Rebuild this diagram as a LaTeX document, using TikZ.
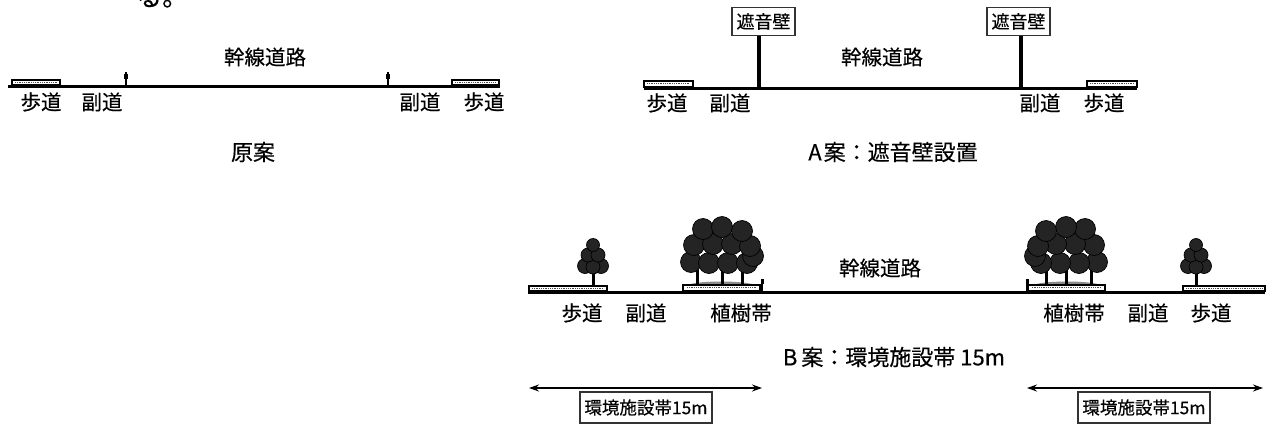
\documentclass[tikz,border=0pt]{standalone}
\usepackage{fontspec}
\setmainfont{Noto Sans CJK JP}[FakeBold=0.35]
\usetikzlibrary{arrows.meta}

\tikzset{
  lbl/.style={inner sep=0pt, font=\fontsize{20.5}{24}\selectfont},
  ttl/.style={inner sep=0pt, font=\fontsize{22}{26}\selectfont},
  ground/.style={line width=3pt, line cap=butt},
  walkway/.style={draw=black, line width=1.1pt, fill=white},
  walkhatch/.style={line width=0.8pt, densely dotted, black!70},
  wall/.style={line width=4pt, line cap=butt},
  signbox/.style={draw=black!80, line width=1.3pt, inner sep=0pt,
    minimum width=63pt, minimum height=28pt, font=\fontsize{18}{20}\selectfont},
  bandbox/.style={draw=black!80, line width=1.2pt, inner sep=0pt,
    minimum width=132pt, minimum height=31pt, font=\fontsize{17.5}{20}\selectfont},
  crown/.style={fill=black!86, draw=black, line width=0.7pt},
  trunk/.style={line width=3pt, line cap=butt},
  curb/.style={line width=2.2pt, line cap=butt},
  span/.style={line width=1.3pt, {Stealth[length=10pt,width=7pt]}-{Stealth[length=10pt,width=7pt]}},
}

% a slim roadside tree, trunk at x=0
\newcommand{\slimtree}{%
  \draw[trunk] (0,286) -- (0,268);
  \foreach \cx/\cy/\r in {-8/266/7.5, 8/266/7.5, 0/267/7, -5/255/7, 5/255/7, 0/245/6.5}
    \draw[crown] (\cx,\cy) circle (\r);
}
% a group of broad trees on a planting strip, centred at x=0
\newcommand{\treegroup}{%
  \fill[black!45] (-36,286) .. controls (-28,280) and (28,280) .. (36,286) -- cycle;
  \draw[walkway] (-38,285) rectangle (39,291);
  \draw[walkhatch] (-34,287.5) -- (35,287.5);
  \foreach \tx in {-24,1,21} \draw[trunk] (\tx,286) -- (\tx,266);
  \foreach \cx/\cy in {-30/262, -12/263, 7/263, 26/263, 32/256,
                       -27/245, -8/244, 11/244, 29/246,
                       -18/229, 1/227, 21/231}
    \draw[crown] (\cx,\cy) circle (10.5);
}

\begin{document}
\begin{tikzpicture}[x=1pt, y=-1pt]
\useasboundingbox (0,0) rectangle (1268,426);
\fill[white] (0,0) rectangle (1268,426);

% tail of the preceding sentence
\node[anchor=base west, inner sep=0pt, font=\fontsize{26}{28}\selectfont] (tail) at (136,6) {る。};

% ---------------- original plan ----------------
\draw[walkway] (12,80) rectangle (60,85);
\draw[walkway] (452,80) rectangle (499,85);
\draw[walkhatch] (15,82) -- (57,82);
\draw[walkhatch] (455,82) -- (496,82);
\draw[ground] (8,86) -- (500,86);
\draw[curb] (126,86) -- (126,72);
\fill (124,74) rectangle (128,79);
\draw[curb] (388,86) -- (388,72);
\fill (386,74) rectangle (390,79);

\node[lbl] (o-road) at (265,57) {幹線道路};
\node[lbl] (o-walkL) at (41,102) {歩道};
\node[lbl] (o-sideL) at (102,102) {副道};
\node[lbl] (o-sideR) at (420,102) {副道};
\node[lbl] (o-walkR) at (484,102) {歩道};
\node[ttl] (o-title) at (253,152) {原案};

% ---------------- plan A: noise barriers ----------------
\draw[walkway] (644,81) rectangle (693,87);
\draw[walkway] (1087,81) rectangle (1137,87);
\draw[walkhatch] (647,83) -- (690,83);
\draw[walkhatch] (1090,83) -- (1134,83);
\draw[ground] (644,88) -- (1137,88);
\node[signbox] (barL) at (763.5,21.5) {遮音壁};
\node[signbox] (barR) at (1018.5,21.5) {遮音壁};
\coordinate (barL-foot) at (759,88);
\coordinate (barR-foot) at (1021,88);
\draw[wall] (barL.south -| barL-foot) -- (barL-foot);
\draw[wall] (barR.south -| barR-foot) -- (barR-foot);

\node[lbl] (a-road) at (882,57) {幹線道路};
\node[lbl] (a-walkL) at (667,103) {歩道};
\node[lbl] (a-sideL) at (730,103) {副道};
\node[lbl] (a-sideR) at (1040,103) {副道};
\node[lbl] (a-walkR) at (1104,103) {歩道};
\node[ttl] (a-title) at (893,152) {A\hspace{2pt}案：遮音壁設置};

% ---------------- plan B: environmental belt ----------------
\draw[walkway] (529,286) rectangle (607,291);
\draw[walkway] (1183,286) rectangle (1265,291);
\draw[walkhatch] (532,288.5) -- (604,288.5);
\draw[walkhatch] (1186,288.5) -- (1262,288.5);
\begin{scope}[shift={(593,0)}] \slimtree \end{scope}
\begin{scope}[shift={(1196,0)}] \slimtree \end{scope}
\begin{scope}[shift={(721,0)}] \treegroup \end{scope}
\begin{scope}[shift={(1067,0)}, xscale=-1] \treegroup \end{scope}
\draw[ground] (528,292) -- (1265,292);
\draw[line width=1.5pt] (762,293) -- (762,279);
\fill (760.5,279) rectangle (763.5,284);
\draw[line width=1.5pt] (1027,293) -- (1027,279);
\fill (1025.5,279) rectangle (1028.5,284);

\node[lbl] (b-road) at (880,268) {幹線道路};
\node[lbl] (b-walkL) at (582,313) {歩道};
\node[lbl] (b-sideL) at (646,313) {副道};
\node[lbl] (b-plantL) at (741,313) {植樹帯};
\node[lbl] (b-plantR) at (1074,313) {植樹帯};
\node[lbl] (b-sideR) at (1148,313) {副道};
\node[lbl] (b-walkR) at (1211,313) {歩道};
\node[ttl] (b-title) at (894,357) {B\hspace{4pt}案：環境施設帯 15m};

\coordinate (spanL-a) at (529,388);
\coordinate (spanL-b) at (762,388);
\coordinate (spanR-a) at (1027,388);
\coordinate (spanR-b) at (1263,388);
\draw[span] (spanL-a) -- (spanL-b);
\draw[span] (spanR-a) -- (spanR-b);
\node[bandbox] (bandL) at (646,407.5) {環境施設帯15m};
\node[bandbox] (bandR) at (1144,407.5) {環境施設帯15m};
\end{tikzpicture}
\end{document}
